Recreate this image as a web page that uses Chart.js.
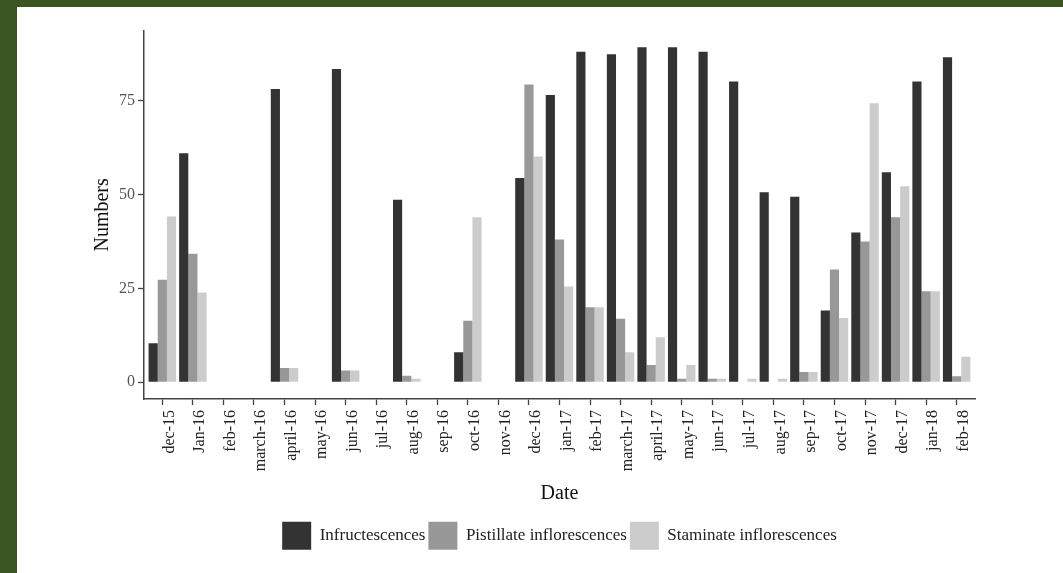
<!DOCTYPE html>
<html>
<head>
<meta charset="utf-8">
<script src="https://cdn.jsdelivr.net/npm/chart.js@4/dist/chart.umd.min.js"></script>
<style>
  html, body { margin: 0; padding: 0; width: 1063px; height: 573px; overflow: hidden; background: #3a5422; }
  #panel { position: absolute; left: 17px; top: 7px; width: 1046px; height: 566px; background: #ffffff; }
  canvas { display: block; }
</style>
</head>
<body>
<div id="panel"><canvas id="chart" width="1046" height="566"></canvas></div>
<script>
// Monthly counts per structure type
const categories = ['dec-15', 'Jan-16', 'feb-16', 'march-16', 'april-16', 'may-16', 'jun-16', 'jul-16',
  'aug-16', 'sep-16', 'oct-16', 'nov-16', 'dec-16', 'jan-17', 'feb-17', 'march-17', 'april-17',
  'may-17', 'jun-17', 'jul-17', 'aug-17', 'sep-17', 'oct-17', 'nov-17', 'dec-17', 'jan-18', 'feb-18'];

const infructescences = [10.4, 61.0, 0, 0, 78.1, 0, 83.4, 0, 48.6, 0, 8.0, 0, 54.4, 76.5, 88.0, 87.3,
  89.2, 89.2, 88.0, 80.1, 50.6, 49.4, 19.1, 39.9, 55.9, 80.1, 86.5];

const pistillate = [27.3, 34.2, 0, 0, 3.8, 0, 3.1, 0, 1.7, 0, 16.4, 0, 79.3, 38.0, 20.0, 16.9,
  4.6, 0.9, 0.9, 0, 0, 2.7, 30.0, 37.5, 43.9, 24.2, 1.6];

const staminate = [44.1, 23.9, 0, 0, 3.8, 0, 3.1, 0, 0.9, 0, 43.9, 0, 60.1, 25.5, 20.0, 8.0,
  12.0, 4.6, 0.9, 0.9, 0.9, 2.7, 17.1, 74.3, 52.2, 24.2, 6.8];

const seriesLabels = ['Infructescences', 'Pistillate inflorescences', 'Staminate inflorescences'];
const seriesColors = ['#333333', '#989898', '#cccccc'];
const yTicks = [0, 25, 50, 75];

const SERIF = "'Liberation Serif', 'Times New Roman', serif";
Chart.defaults.font.family = SERIF;

// bars sit on a numeric axis (one unit per month) so the side padding can be 0.6 of a slot
const toPoints = values => values.map((v, i) => ({ x: i, y: v }));

const datasets = [infructescences, pistillate, staminate].map((values, k) => ({
  label: seriesLabels[k],
  data: toPoints(values),
  backgroundColor: seriesColors[k],
  borderWidth: 0,
  categoryPercentage: 0.9,
  barPercentage: 1.0
}));

new Chart(document.getElementById('chart'), {
  type: 'bar',
  data: { datasets },
  options: {
    responsive: false,
    animation: false,
    events: [],
    layout: { padding: { left: 74, right: 88, top: 23.7, bottom: 13.3 } },
    scales: {
      x: {
        type: 'linear',
        min: -0.6,
        max: categories.length - 1 + 0.6,
        offset: false,
        afterBuildTicks: s => { s.ticks = categories.map((_, i) => ({ value: i })); },
        afterFit: s => { s.height = 119.7; },
        ticks: {
          autoSkip: false,
          minRotation: 90,
          maxRotation: 90,
          padding: 5,
          labelOffset: 7,
          color: '#222222',
          font: { family: SERIF, size: 16 },
          callback: v => categories[Math.round(v)] ?? ''
        },
        grid: { offset: false, drawOnChartArea: false, drawTicks: true, tickLength: 6, tickColor: '#444444', tickWidth: 1.3 },
        border: { display: true, color: '#444444', width: 1.5 },
        title: {
          display: true, text: 'Date', color: '#111111',
          font: { family: SERIF, size: 20 },
          padding: { top: 0, bottom: 12.7 }
        }
      },
      y: {
        min: -4.46,
        max: 93.6,
        afterBuildTicks: s => { s.ticks = yTicks.map(v => ({ value: v })); },
        afterFit: s => { s.width = 53; },
        ticks: { padding: 3, color: '#555555', font: { family: SERIF, size: 16 } },
        grid: { drawOnChartArea: false, drawTicks: true, tickLength: 6, tickColor: '#444444', tickWidth: 1.3 },
        border: { display: true, color: '#444444', width: 1.5 },
        title: {
          display: true, text: 'Numbers', color: '#111111',
          font: { family: SERIF, size: 20 },
          padding: { top: 0, bottom: 0 }
        }
      }
    },
    plugins: {
      tooltip: { enabled: false },
      legend: {
        position: 'bottom',
        fullSize: false,
        labels: {
          boxWidth: 29,
          boxHeight: 28,
          padding: 3,
          color: '#222222',
          font: { family: SERIF, size: 17 }
        }
      }
    }
  }
});
</script>
</body>
</html>
